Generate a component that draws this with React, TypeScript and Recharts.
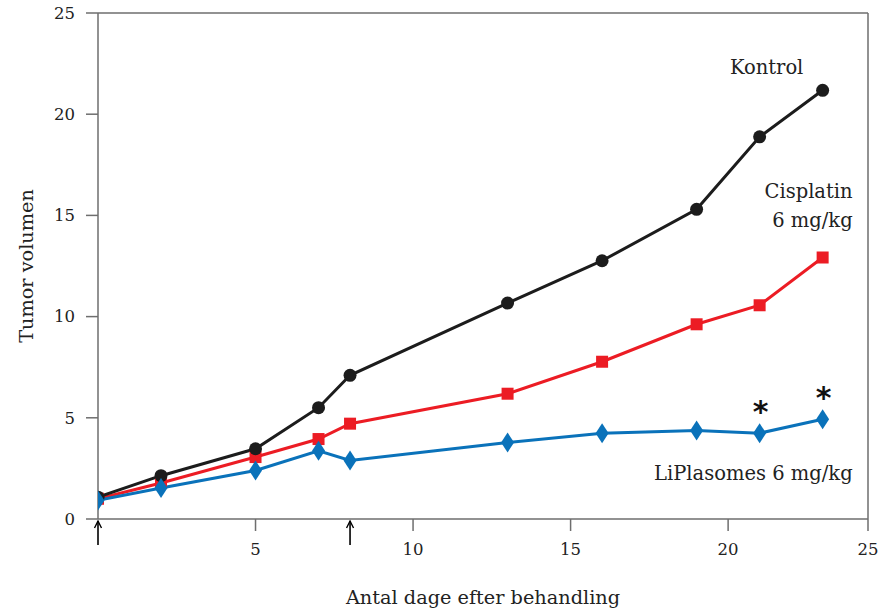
import React from 'react';
import { LineChart, Line, XAxis, YAxis, ReferenceLine, LabelList } from 'recharts';

// Days after treatment
const days = [0, 2, 5, 7, 8, 13, 16, 19, 21, 23];
// Tumor volume per group
const kontrol = [1.08, 2.14, 3.47, 5.5, 7.1, 10.67, 12.76, 15.3, 18.88, 21.18];
const cisplatin = [1.0, 1.78, 3.06, 3.95, 4.71, 6.19, 7.77, 9.62, 10.56, 12.92];
const liplasomes = [0.92, 1.53, 2.4, 3.37, 2.89, 3.78, 4.24, 4.37, 4.24, 4.93];
const significant = [false, false, false, false, false, false, false, false, true, true];
// Treatment days (arrows)
const treatmentDays = [0, 8];
// Axis ticks
const yTicks = [0, 5, 10, 15, 20, 25];
const xTickValues = [5, 10, 15, 20, 24.44];
const xTickLabels = ['5', '10', '15', '20', '25'];
const xDomainMax = 24.44;

const labelKontrol = 'Kontrol';
const labelCisplatin = ['Cisplatin', '6 mg/kg'];
const labelLip = 'LiPlasomes 6 mg/kg';

const data = days.map((d, i) => ({
  day: d,
  kontrol: kontrol[i],
  cisplatin: cisplatin[i],
  liplasomes: liplasomes[i],
}));

const FONT = '"DejaVu Serif", serif';
const AXIS = '#6e6e6e';
const BLACK = '#1c1c1c';
const RED = '#ec1c24';
const BLUE = '#0a72ba';
const last = days.length - 1;

const CircleDot = (p: any) =>
  p.cx == null ? null : <circle key={`c-${p.index}`} cx={p.cx} cy={p.cy} r={6.5} fill={BLACK} />;
const SquareDot = (p: any) =>
  p.cx == null ? null : <rect key={`s-${p.index}`} x={p.cx - 6} y={p.cy - 6} width={12} height={12} fill={RED} />;
const DiamondDot = (p: any) =>
  p.cx == null ? null : (
    <path
      key={`d-${p.index}`}
      d={`M${p.cx},${p.cy - 10} L${p.cx + 6.5},${p.cy} L${p.cx},${p.cy + 10} L${p.cx - 6.5},${p.cy} Z`}
      fill={BLUE}
    />
  );

const ArrowShape = (p: any) => {
  const x = Number(p.x1);
  const bottom = Math.max(Number(p.y1), Number(p.y2));
  const top = bottom + 2;
  const end = bottom + 26;
  return (
    <g>
      <line x1={x} y1={top} x2={x} y2={end} stroke="#000" strokeWidth={1.6} />
      <path d={`M${x - 3.5},${top + 7} L${x},${top} L${x + 3.5},${top + 7}`} fill="none" stroke="#000" strokeWidth={1.4} />
    </g>
  );
};

const textStyle = { fontFamily: FONT, fontSize: 19.5, fill: '#222' };

export default function App() {
  return (
    <div style={{ position: 'absolute', left: 0, top: 0, background: '#fff' }}>
      <LineChart width={880} height={609} data={data} margin={{ top: 13, right: 12, bottom: 0, left: 0 }}>
        <XAxis
          dataKey="day"
          type="number"
          domain={[0, xDomainMax]}
          ticks={xTickValues}
          tickFormatter={(v: number) => xTickLabels[xTickValues.indexOf(v)] ?? String(v)}
          height={90}
          tickSize={12}
          tickMargin={12}
          axisLine={{ stroke: AXIS, strokeWidth: 1.5 }}
          tickLine={{ stroke: AXIS, strokeWidth: 1.5 }}
          tick={{ fontFamily: FONT, fontSize: 16.5, fill: '#222' }}
          label={{
            value: 'Antal dage efter behandling',
            position: 'insideBottom',
            offset: 5,
            style: { fontFamily: FONT, fontSize: 19.3, fill: '#222' },
          }}
          allowDataOverflow
        />
        <YAxis
          type="number"
          domain={[0, 25]}
          ticks={yTicks}
          width={98}
          tickSize={12}
          tickMargin={11}
          axisLine={{ stroke: AXIS, strokeWidth: 1.5 }}
          tickLine={{ stroke: AXIS, strokeWidth: 1.5 }}
          tick={{ fontFamily: FONT, fontSize: 16.5, fill: '#222' }}
          label={{
            value: 'Tumor volumen',
            content: (p: any) => {
              const vb = p.viewBox || {};
              const x = (vb.x ?? 0) + 33;
              const y = (vb.y ?? 0) + (vb.height ?? 0) / 2;
              return (
                <text x={x} y={y} transform={`rotate(-90, ${x}, ${y})`} textAnchor="middle" style={{ fontFamily: FONT, fontSize: 19.3, fill: '#222' }}>
                  Tumor volumen
                </text>
              );
            },
          }}
        />
        <ReferenceLine y={25} stroke={AXIS} strokeWidth={1.5} />
        <ReferenceLine x={xDomainMax} stroke={AXIS} strokeWidth={1.5} />
        {treatmentDays.map((d) => (
          <ReferenceLine key={`arrow-${d}`} x={d} stroke="none" shape={ArrowShape} />
        ))}
        <Line
          dataKey="cisplatin"
          stroke={RED}
          strokeWidth={3}
          dot={SquareDot}
          activeDot={false}
          isAnimationActive={false}
        >
          <LabelList
            dataKey="cisplatin"
            content={(p: any) =>
              p.index === last ? (
                <g>
                  <text x={Number(p.x) + 30} y={Number(p.y) - 59} textAnchor="end" style={textStyle}>
                    {labelCisplatin[0]}
                  </text>
                  <text x={Number(p.x) + 30} y={Number(p.y) - 30} textAnchor="end" style={textStyle}>
                    {labelCisplatin[1]}
                  </text>
                </g>
              ) : null
            }
          />
        </Line>
        <Line
          dataKey="kontrol"
          stroke={BLACK}
          strokeWidth={3}
          dot={CircleDot}
          activeDot={false}
          isAnimationActive={false}
        >
          <LabelList
            dataKey="kontrol"
            content={(p: any) =>
              p.index === last ? (
                <text x={Number(p.x) - 56} y={Number(p.y) - 16} textAnchor="middle" style={textStyle}>
                  {labelKontrol}
                </text>
              ) : null
            }
          />
        </Line>
        <Line
          dataKey="liplasomes"
          stroke={BLUE}
          strokeWidth={3}
          dot={DiamondDot}
          activeDot={false}
          isAnimationActive={false}
        >
          <LabelList
            dataKey="liplasomes"
            content={(p: any) => {
              const out: any[] = [];
              if (significant[p.index]) {
                out.push(
                  <text key="ast" x={Number(p.x) + 1} y={Number(p.y) - 11} textAnchor="middle" style={{ fontFamily: '"DejaVu Sans", sans-serif', fontWeight: 'bold', fontSize: 30, fill: '#111' }}>
                    *
                  </text>
                );
              }
              if (p.index === last) {
                out.push(
                  <text key="lbl" x={Number(p.x) + 30} y={Number(p.y) + 61} textAnchor="end" style={textStyle}>
                    {labelLip}
                  </text>
                );
              }
              return out.length ? <g>{out}</g> : null;
            }}
          />
        </Line>
      </LineChart>
    </div>
  );
}
